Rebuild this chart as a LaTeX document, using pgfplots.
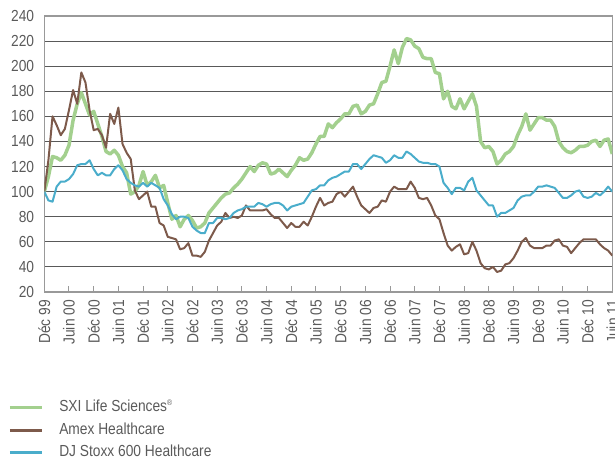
\documentclass[border=0pt]{standalone}
\usepackage{fontspec}
\setmainfont{Liberation Sans}[FakeStretch=0.86]
\usepackage{pgfplots}
\pgfplotsset{compat=1.18}
\definecolor{cgreen}{HTML}{A3D08E}
\definecolor{cbrown}{HTML}{7D5A4B}
\definecolor{cblue}{HTML}{4AADCB}
\definecolor{ctext}{HTML}{5A5A5A}
\begin{document}
\begin{tikzpicture}
\begin{axis}[
  name=ax,
  scale only axis, width=568bp, height=276bp,
  xmin=0, xmax=138, ymin=20, ymax=240,
  xtick={0,6,...,138},
  xticklabels={Déc 99,Juin 00,Déc 00,Juin 01,Déc 01,Juin 02,Déc 02,Juin 03,Déc 03,Juin 04,Déc 04,Juin 05,Déc 05,Juin 06,Déc 06,Juin 07,Déc 07,Juin 08,Déc 08,Juin 09,Déc 09,Juin 10,Déc 10,Juin 11},
  ytick={20,40,...,240},
  xtick pos=bottom, ytick pos=left,
  tick align=inside, major tick length=6.5bp,
  xtick style={draw=black!40, line width=1bp},
  ytick style={draw=none},
  ymajorgrids,
  major grid style={draw=black!65, line width=0.9bp},
  axis line style={draw=black!40, line width=1.1bp},
  /pgf/number format/assume math mode=true,
  tick label style={font=\fontsize{16bp}{19bp}\selectfont, text=ctext, inner sep=0pt},
  x tick label style={rotate=90, anchor=east},
  y tick label style={anchor=east},
  xticklabel shift=8bp,
  yticklabel shift=10bp,
  legend style={at={(axis description cs:-0.0634,-0.3895)}, anchor=north west,
    draw=none, fill=none, inner sep=0pt, outer sep=0pt,
    font=\fontsize{16bp}{19bp}\selectfont, text=ctext,
    nodes={inner sep=0pt, text height=12bp, text depth=4bp},
    row sep=6.5bp, column sep=16bp},
  legend cell align=left,
  legend image code/.code={\draw[#1, line width=3bp] (0bp,0bp) -- (32bp,0bp);},
  every axis plot/.append style={line join=round, mark=none},
]
\addplot[cgreen, line width=3.5bp] coordinates {
(0,100)(1,112)(2,128)(3,127)(4,125)(5,129)(6,137)(7,157)(8,170)(9,179)
(10,170)(11,161)(12,164)(13,154)(14,144)(15,132)(16,130)(17,133)(18,129)(19,120)
(20,115)(21,98)(22,100)(23,105)(24,116)(25,105)(26,108)(27,113)(28,103)(29,105)
(30,91)(31,78)(32,81)(33,72)(34,78)(35,81)(36,77)(37,71)(38,72)(39,75)
(40,83)(41,87)(42,91)(43,95)(44,98)(45,99)(46,103)(47,106)(48,110)(49,115)
(50,120)(51,116)(52,121)(53,123)(54,122)(55,114)(56,115)(57,118)(58,115)(59,112)
(60,117)(61,121)(62,127)(63,125)(64,126)(65,131)(66,138)(67,144)(68,144)(69,154)
(70,151)(71,155)(72,158)(73,162)(74,162)(75,168)(76,169)(77,162)(78,164)(79,169)
(80,170)(81,178)(82,187)(83,188)(84,200)(85,213)(86,202)(87,215)(88,222)(89,221)
(90,216)(91,214)(92,207)(93,206)(94,206)(95,195)(96,194)(97,174)(98,180)(99,168)
(100,166)(101,174)(102,166)(103,172)(104,178)(105,168)(106,140)(107,135)(108,136)(109,132)
(110,122)(111,125)(112,130)(113,132)(114,136)(115,145)(116,152)(117,162)(118,149)(119,154)
(120,159)(121,159)(122,157)(123,157)(124,152)(125,140)(126,135)(127,132)(128,131)(129,133)
(130,136)(131,136)(132,137)(133,140)(134,141)(135,136)(136,141)(137,142)(138,130)
};
\addlegendentry{SXI Life Sciences\textsuperscript{\fontsize{8bp}{8bp}\selectfont ®}}
\addplot[cbrown, line width=2bp] coordinates {
(0,100)(1,125)(2,160)(3,153)(4,145)(5,150)(6,165)(7,181)(8,170)(9,195)
(10,187)(11,165)(12,149)(13,150)(14,145)(15,135)(16,162)(17,154)(18,167)(19,138)
(20,131)(21,126)(22,101)(23,94)(24,97)(25,100)(26,88)(27,88)(28,75)(29,73)
(30,64)(31,63)(32,62)(33,54)(34,55)(35,59)(36,49)(37,49)(38,48)(39,52)
(40,61)(41,67)(42,73)(43,76)(44,83)(45,79)(46,80)(47,79)(48,81)(49,89)
(50,85)(51,85)(52,85)(53,85)(54,86)(55,82)(56,79)(57,79)(58,75)(59,71)
(60,75)(61,72)(62,72)(63,76)(64,73)(65,80)(66,88)(67,95)(68,89)(69,91)
(70,92)(71,98)(72,100)(73,96)(74,100)(75,104)(76,96)(77,89)(78,86)(79,83)
(80,87)(81,88)(82,93)(83,92)(84,100)(85,104)(86,102)(87,102)(88,102)(89,108)
(90,103)(91,95)(92,94)(93,95)(94,89)(95,81)(96,78)(97,67)(98,57)(99,53)
(100,56)(101,58)(102,50)(103,51)(104,60)(105,53)(106,43)(107,39)(108,38)(109,40)
(110,36)(111,37)(112,42)(113,43)(114,47)(115,53)(116,60)(117,63)(118,57)(119,55)
(120,55)(121,55)(122,57)(123,57)(124,61)(125,62)(126,57)(127,56)(128,51)(129,55)
(130,59)(131,62)(132,62)(133,62)(134,62)(135,58)(136,55)(137,53)(138,49)
};
\addlegendentry{Amex Healthcare}
\addplot[cblue, line width=2bp] coordinates {
(0,100)(1,93)(2,92)(3,104)(4,108)(5,108)(6,110)(7,114)(8,121)(9,122)
(10,122)(11,125)(12,118)(13,113)(14,115)(15,113)(16,113)(17,118)(18,121)(19,117)
(20,110)(21,107)(22,105)(23,104)(24,107)(25,104)(26,107)(27,105)(28,103)(29,94)
(30,89)(31,82)(32,78)(33,80)(34,80)(35,79)(36,72)(37,69)(38,67)(39,67)
(40,75)(41,75)(42,79)(43,79)(44,78)(45,79)(46,83)(47,85)(48,86)(49,88)
(50,88)(51,88)(52,91)(53,90)(54,88)(55,90)(56,91)(57,91)(58,89)(59,85)
(60,88)(61,89)(62,90)(63,91)(64,96)(65,101)(66,102)(67,105)(68,105)(69,109)
(70,111)(71,112)(72,114)(73,116)(74,116)(75,122)(76,122)(77,118)(78,122)(79,126)
(80,129)(81,128)(82,127)(83,123)(84,125)(85,129)(86,127)(87,127)(88,132)(89,130)
(90,127)(91,124)(92,123)(93,123)(94,122)(95,122)(96,120)(97,107)(98,103)(99,98)
(100,103)(101,103)(102,101)(103,108)(104,111)(105,101)(106,97)(107,93)(108,89)(109,89)
(110,80)(111,83)(112,83)(113,85)(114,87)(115,93)(116,96)(117,97)(118,97)(119,100)
(120,104)(121,104)(122,105)(123,104)(124,103)(125,99)(126,95)(127,95)(128,97)(129,100)
(130,101)(131,96)(132,95)(133,96)(134,99)(135,97)(136,100)(137,104)(138,100)
};
\addlegendentry{DJ Stoxx 600 Healthcare}
\end{axis}
\pgfresetboundingbox
\path[use as bounding box] (ax.south west) ++(-44.3bp,-165bp) rectangle ++(615bp,457bp);
\end{tikzpicture}
\end{document}
